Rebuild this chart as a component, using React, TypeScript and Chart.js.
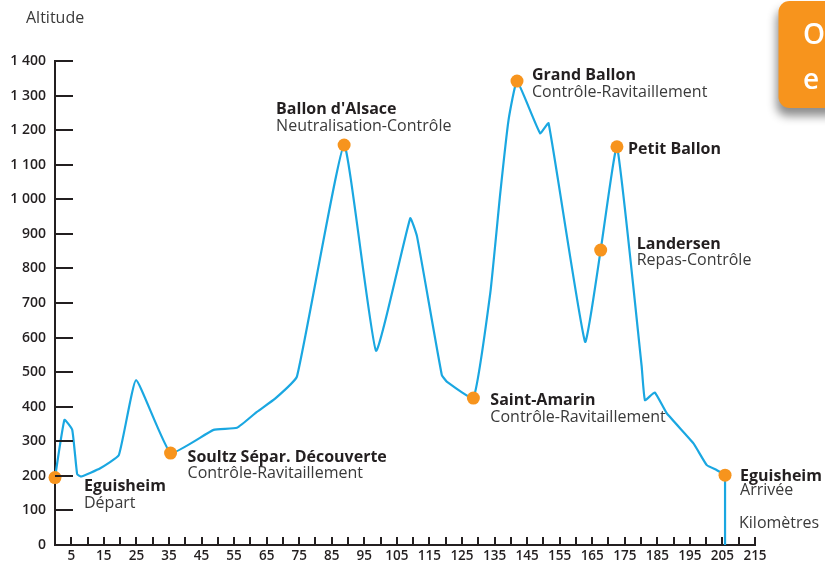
import { useEffect, useRef } from 'react';
import { Chart, registerables } from 'chart.js';

Chart.register(...registerables);

// Elevation profile (km, metres)
const profileKm = [0, 2.9, 5.3, 6.8, 8, 13.9, 19.6, 24.9, 35.5, 48.7, 55.9, 62, 67.7, 74.3, 88.8, 98.6, 109.1, 111.2, 118.8, 120.4, 128.5, 133.7, 136.7, 139.3, 141.9, 149, 151.6, 162.8, 167.6, 172.6, 180.2, 181.2, 184.2, 187.9, 196.1, 200.2, 203.2, 205.8];
const profileAlt = [195, 362, 333, 205, 198, 222, 260, 477, 266, 333, 339, 385, 424, 487, 1157, 562, 945, 892, 492, 472, 425, 729, 1012, 1229, 1342, 1191, 1220, 588, 853, 1152, 516, 419, 441, 381, 294, 231, 217, 202];

// Checkpoints
const markerKm = [0, 35.5, 88.8, 128.5, 141.9, 167.6, 172.6, 205.8];
const markerAlt = [195, 266, 1157, 425, 1342, 853, 1152, 202];
const markerName = ['Eguisheim', 'Soultz Sépar. Découverte', "Ballon d'Alsace", 'Saint-Amarin', 'Grand Ballon', 'Landersen', 'Petit Ballon', 'Eguisheim'];
const markerNote = ['Départ', 'Contrôle-Ravitaillement', 'Neutralisation-Contrôle', 'Contrôle-Ravitaillement', 'Contrôle-Ravitaillement', 'Repas-Contrôle', '', 'Arrivée'];

// Axis settings
const xMin = 0;
const xMax = 215;
const xStep = 5;
const yMin = 0;
const yMax = 1400;
const yStep = 100;

const yAxisTitle = 'Altitude';
const xAxisTitle = 'Kilomètres';
const tabLetters = ['O', 'e'];

// label placement (styling): [dx, dyName, dyNote]
const labelOffsets: [number, number, number][] = [
  [29, 13, 30],
  [17, 9, 25],
  [-68, -31, -14],
  [17, 7, 24],
  [15, -1, 16],
  [36, -1, 15],
  [11, 7, 0],
  [15, 6, 20],
];

const DARK = '#231f20';
const GREY = '#3a3a3a';
const BLUE = '#1aa7e1';
const ORANGE = '#f7941d';
const FONT = "'Open Sans', 'Noto Sans', sans-serif";

function formatAlt(v: number): string {
  if (v >= 1000) {
    const th = Math.floor(v / 1000);
    const rest = String(v % 1000).padStart(3, '0');
    return th + ' ' + rest;
  }
  return String(v);
}

export default function App() {
  const ref = useRef<HTMLCanvasElement | null>(null);

  useEffect(() => {
    const canvas = ref.current;
    if (!canvas) return;

    const decorPlugin = {
      id: 'decor',
      beforeDraw(chart: any) {
        const ctx = chart.ctx;
        ctx.save();
        // orange tab at top right
        ctx.shadowColor = 'rgba(0,0,0,0.45)';
        ctx.shadowBlur = 10;
        ctx.shadowOffsetX = -2;
        ctx.shadowOffsetY = 8;
        ctx.fillStyle = ORANGE;
        ctx.beginPath();
        (ctx as any).roundRect(778.5, 1, 70, 107, 11);
        ctx.fill();
        ctx.restore();

        ctx.save();
        ctx.fillStyle = '#ffffff';
        ctx.font = `600 28px ${FONT}`;
        ctx.textAlign = 'left';
        ctx.textBaseline = 'alphabetic';
        ctx.fillText(tabLetters[0], 803, 44);
        ctx.fillText(tabLetters[1], 803, 89);
        ctx.restore();

        ctx.save();
        ctx.fillStyle = GREY;
        ctx.font = `16px ${FONT}`;
        ctx.textAlign = 'left';
        ctx.textBaseline = 'alphabetic';
        ctx.fillText(yAxisTitle, 26, 23);
        ctx.fillText(xAxisTitle, 739, 528);
        ctx.restore();
      },
      afterDatasetsDraw(chart: any) {
        const ctx = chart.ctx;
        const xs = chart.scales.x;
        const ys = chart.scales.y;
        const area = chart.chartArea;
        ctx.save();
        ctx.strokeStyle = DARK;
        ctx.lineWidth = 2;
        ctx.beginPath();
        ys.ticks.forEach((t: any) => {
          const py = Math.round(ys.getPixelForValue(t.value));
          if (t.value === yMin) return;
          ctx.moveTo(area.left, py);
          ctx.lineTo(area.left + 18, py);
        });
        xs.ticks.forEach((t: any) => {
          const px = Math.round(xs.getPixelForValue(t.value));
          if (t.value === xMin) return;
          ctx.moveTo(px, area.bottom);
          ctx.lineTo(px, area.bottom - 8);
        });
        ctx.stroke();
        ctx.restore();

        // checkpoint labels
        const meta = chart.getDatasetMeta(0);
        ctx.save();
        ctx.textAlign = 'left';
        ctx.textBaseline = 'alphabetic';
        meta.data.forEach((el: any, i: number) => {
          const [dx, dyN, dyT] = labelOffsets[i];
          ctx.fillStyle = DARK;
          ctx.font = `bold 16px ${FONT}`;
          ctx.fillText(markerName[i], el.x + dx, el.y + dyN);
          if (markerNote[i]) {
            ctx.fillStyle = GREY;
            ctx.font = `16px ${FONT}`;
            ctx.fillText(markerNote[i], el.x + dx, el.y + dyT);
          }
        });
        ctx.restore();
      },
    };

    const last = profileKm.length - 1;

    const chart = new Chart(canvas, {
      type: 'line',
      data: {
        datasets: [
          {
            label: 'Checkpoints',
            data: markerKm.map((k, i) => ({ x: k, y: markerAlt[i] })),
            showLine: false,
            pointRadius: 6.5,
            pointHoverRadius: 6.5,
            pointBackgroundColor: ORANGE,
            pointBorderWidth: 0,
            borderColor: ORANGE,
            backgroundColor: ORANGE,
            clip: false,
          },
          {
            label: 'Profile',
            data: profileKm.map((k, i) => ({ x: k, y: profileAlt[i] })),
            borderColor: BLUE,
            borderWidth: 2.2,
            pointRadius: 0,
            tension: 0.12,
            fill: false,
            clip: false,
          },
          {
            label: 'Finish',
            data: [
              { x: profileKm[last], y: profileAlt[last] },
              { x: profileKm[last], y: yMin },
            ],
            borderColor: BLUE,
            borderWidth: 2.2,
            pointRadius: 0,
            tension: 0,
            fill: false,
          },
        ],
      },
      options: {
        responsive: false,
        animation: false,
        events: [],
        layout: { padding: { top: 61, right: 70, left: 0, bottom: 0 } },
        plugins: {
          legend: { display: false },
          tooltip: { enabled: false },
          title: { display: false },
        },
        scales: {
          x: {
            type: 'linear',
            min: xMin,
            max: xMax,
            afterFit: (s: any) => {
              s.height = 19;
            },
            grid: { display: false, drawTicks: false },
            border: { display: true, color: DARK, width: 2 },
            ticks: {
              stepSize: xStep,
              autoSkip: false,
              maxRotation: 0,
              padding: 3,
              color: DARK,
              font: { family: FONT, size: 13.5, weight: '600' },
              callback: (v: any) => (Number(v) % 10 === 5 ? String(v) : ''),
            },
          },
          y: {
            type: 'linear',
            min: yMin,
            max: yMax,
            afterFit: (s: any) => {
              s.width = 55;
            },
            grid: { display: false, drawTicks: false },
            border: { display: true, color: DARK, width: 2 },
            ticks: {
              stepSize: yStep,
              autoSkip: false,
              padding: 9,
              color: DARK,
              font: { family: FONT, size: 14, weight: '600' },
              callback: (v: any) => formatAlt(Number(v)),
            },
          },
        },
      },
      plugins: [decorPlugin],
    } as any);

    return () => {
      chart.destroy();
    };
  }, []);

  return (
    <div style={{ position: 'fixed', left: 0, top: 0, width: 825, height: 564, background: '#ffffff' }}>
      <canvas ref={ref} width={825} height={564} style={{ display: 'block' }} />
    </div>
  );
}
